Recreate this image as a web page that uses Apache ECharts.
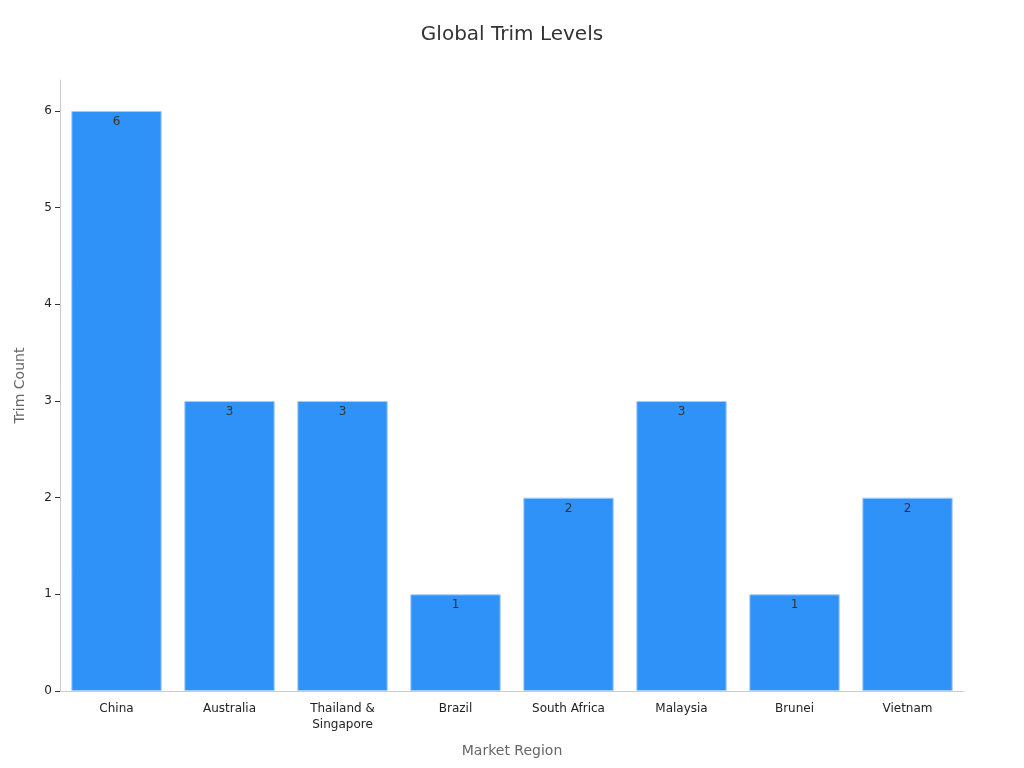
<!DOCTYPE html>
<html>
<head>
<meta charset="utf-8">
<script src="https://cdn.jsdelivr.net/npm/echarts@6/dist/echarts.min.js"></script>
<style>html,body{margin:0;padding:0;background:#fff}#c{width:1024px;height:768px}</style>
</head>
<body>
<div id="c"></div>
<script>
const categories = ["China", "Australia", "Thailand &\nSingapore", "Brazil", "South Africa", "Malaysia", "Brunei", "Vietnam"];
const trimCounts = [6, 3, 3, 1, 2, 3, 1, 2];
const yTicks = [0, 1, 2, 3, 4, 5, 6];

const chart = echarts.init(document.getElementById('c'));
chart.setOption({
  animation: false,
  textStyle: { fontFamily: 'DejaVu Sans' },
  title: {
    text: 'Global Trim Levels', left: 'center', top: 20,
    textStyle: { fontSize: 20, fontWeight: 'normal', color: '#333', fontFamily: 'DejaVu Sans' }
  },
  grid: { left: 60, right: 60, top: 80, bottom: 77 },
  xAxis: {
    type: 'category', data: categories,
    name: 'Market Region', nameLocation: 'middle', nameGap: 53,
    nameTextStyle: { fontSize: 14, color: '#666' },
    axisLine: { lineStyle: { color: '#ccc' } },
    axisTick: { alignWithLabel: true, lineStyle: { color: '#333' }, length: 4 },
    axisLabel: { color: '#222', fontSize: 12, margin: 10, lineHeight: 16, interval: 0 }
  },
  yAxis: {
    type: 'value', min: 0, max: 6.32, interval: 1,
    name: 'Trim Count', nameLocation: 'middle', nameGap: 33,
    nameTextStyle: { fontSize: 14, color: '#666' },
    axisLine: { show: true, lineStyle: { color: '#ccc' } },
    axisTick: { show: true, lineStyle: { color: '#333' }, length: 5 },
    axisLabel: { color: '#222', fontSize: 12, showMaxLabel: false,
      formatter: v => yTicks.includes(v) ? String(v) : '' },
    splitLine: { show: false }
  },
  series: [{
    type: 'bar', data: trimCounts, barWidth: '80%',
    itemStyle: { color: '#2f92f8', borderColor: '#a8cdf7', borderWidth: 1 },
    label: { show: true, position: 'insideTop', color: '#333', fontSize: 12 }
  }]
});
</script>
</body>
</html>
